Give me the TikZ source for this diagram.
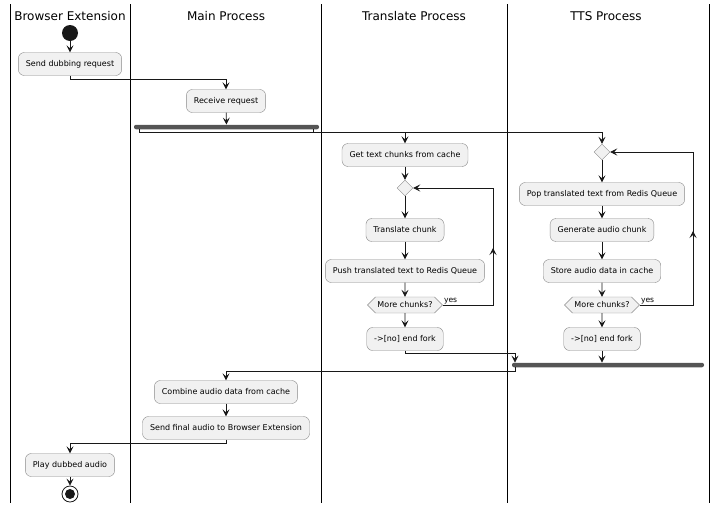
\documentclass[tikz,border=0pt]{standalone}
\usepackage{fontspec}
\setmainfont{DejaVu Sans}
\usetikzlibrary{arrows.meta,shapes.geometric,shapes.symbols}
\definecolor{boxfill}{HTML}{F1F1F1}
\definecolor{boxline}{HTML}{8A8A8A}
\definecolor{flowline}{HTML}{181818}
\definecolor{barfill}{HTML}{555555}
\tikzset{
  act/.style={draw=boxline, fill=boxfill, rounded corners=6pt, minimum height=23pt,
    inner xsep=7.5pt, font=\fontsize{8}{9.5}\selectfont},
  lane/.style={font=\fontsize{12}{14}\selectfont},
  flow/.style={draw=flowline, line width=0.8pt, -{Stealth[length=7pt,width=7pt,inset=3pt]}},
  plain/.style={draw=flowline, line width=0.8pt},
  choice/.style={diamond, draw=boxline, fill=boxfill, inner sep=0pt, minimum width=16pt, minimum height=16pt},
  test/.style={signal, signal to=west and east, draw=boxline, fill=boxfill, inner xsep=2pt, inner ysep=1pt,
    minimum height=16pt, font=\fontsize{8}{9.5}\selectfont},
  bar/.style={fill=barfill, rounded corners=2pt, minimum height=4.5pt, inner sep=0pt}
}
\begin{document}
\begin{tikzpicture}[x=1pt,y=-1pt]
\useasboundingbox (0,0) rectangle (720,512);

\draw[line width=0.9pt] (10,4) -- (10,503);
\draw[line width=0.9pt] (130,4) -- (130,503);
\draw[line width=0.9pt] (321,4) -- (321,503);
\draw[line width=0.9pt] (507,4) -- (507,503);
\draw[line width=0.9pt] (709,4) -- (709,503);

\node[lane] (L1) at (70,16) {Browser Extension};
\node[lane] (L2) at (226,16) {Main Process};
\node[lane] (L3) at (414,16) {Translate Process};
\node[lane] (L4) at (606,16) {TTS Process};

\node[circle, fill=flowline, minimum size=16pt, inner sep=0pt] (S) at (70,33) {};
\node[act] (A) at (70,64) {Send dubbing request};
\node[act] (B) at (226,101) {Receive request};
\node[bar, minimum width=185pt] (F) at (226.5,127) {};

\node[act] (C) at (405,155) {Get text chunks from cache};
\node[choice] (D) at (405,188) {};
\node[act] (E) at (405,230) {Translate chunk};
\node[act] (G) at (405,271) {Push translated text to Redis Queue};
\node[test] (H) at (405,305) {More chunks?};
\node[act] (I) at (405,339) {->[no] end fork};

\node[choice] (K) at (602,152) {};
\node[act] (M) at (602,194) {Pop translated text from Redis Queue};
\node[act] (N) at (602,230) {Generate audio chunk};
\node[act] (P) at (602,271) {Store audio data in cache};
\node[test] (Q) at (602,305) {More chunks?};
\node[act] (R) at (602,339) {->[no] end fork};
\node[bar, minimum width=192pt] (J) at (608,365) {};

\node[act] (T) at (226,392) {Combine audio data from cache};
\node[act] (U) at (226,428) {Send final audio to Browser Extension};
\node[act] (V) at (70,465) {Play dubbed audio};
\node[circle, draw=flowline, line width=0.8pt, minimum size=16pt, inner sep=0pt] (Z) at (70,494) {};
\node[circle, fill=flowline, minimum size=10pt, inner sep=0pt] (Z1) at (70,494) {};

\node[font=\fontsize{7.6}{9}\selectfont, anchor=south west, inner sep=1pt] (Y1) at (H.east) {yes};
\node[font=\fontsize{7.6}{9}\selectfont, anchor=south west, inner sep=1pt] (Y2) at (Q.east) {yes};

\coordinate (F1) at (139,129.3);
\coordinate (F2) at (313,129.3);
\coordinate (J1) at (515,367.3);

\draw[flow] (S) -- (A);
\draw[flow] (A.south) -- ++(0,4) -| (B.north);
\draw[flow] (B) -- (F);
\draw[plain] (F1) |- (F2 |- 0,132) -- (F2);
\draw[flow] (F1) -- ++(0,2.7) -| (C.north);
\draw[flow] (F1) -- ++(0,2.7) -| (K.north);

\draw[flow] (C) -- (D);
\draw[flow] (D) -- (E);
\draw[flow] (E) -- (G);
\draw[flow] (G) -- (H);
\draw[flow] (H) -- (I);
\draw[plain] (H.east) -- (493,305) -- (493,250);
\draw[flow] (493,305) -- (493,248);
\draw[flow] (493,250) |- (D.east);

\draw[flow] (K) -- (M);
\draw[flow] (M) -- (N);
\draw[flow] (N) -- (P);
\draw[flow] (P) -- (Q);
\draw[flow] (Q) -- (R);
\draw[flow] (Q.east) -- (693,305) -- (693,231);
\draw[flow] (693,233) |- (K.east);

\draw[flow] (I.south) -- ++(0,3) -| (J1 |- J.north);
\draw[flow] (R) -- (R |- J.north);
\draw[flow] (J1) -- ++(0,4) -| (T.north);
\draw[flow] (T) -- (U);
\draw[flow] (U.south) -- ++(0,4) -| (V.north);
\draw[flow] (V) -- (Z);
\end{tikzpicture}
\end{document}
